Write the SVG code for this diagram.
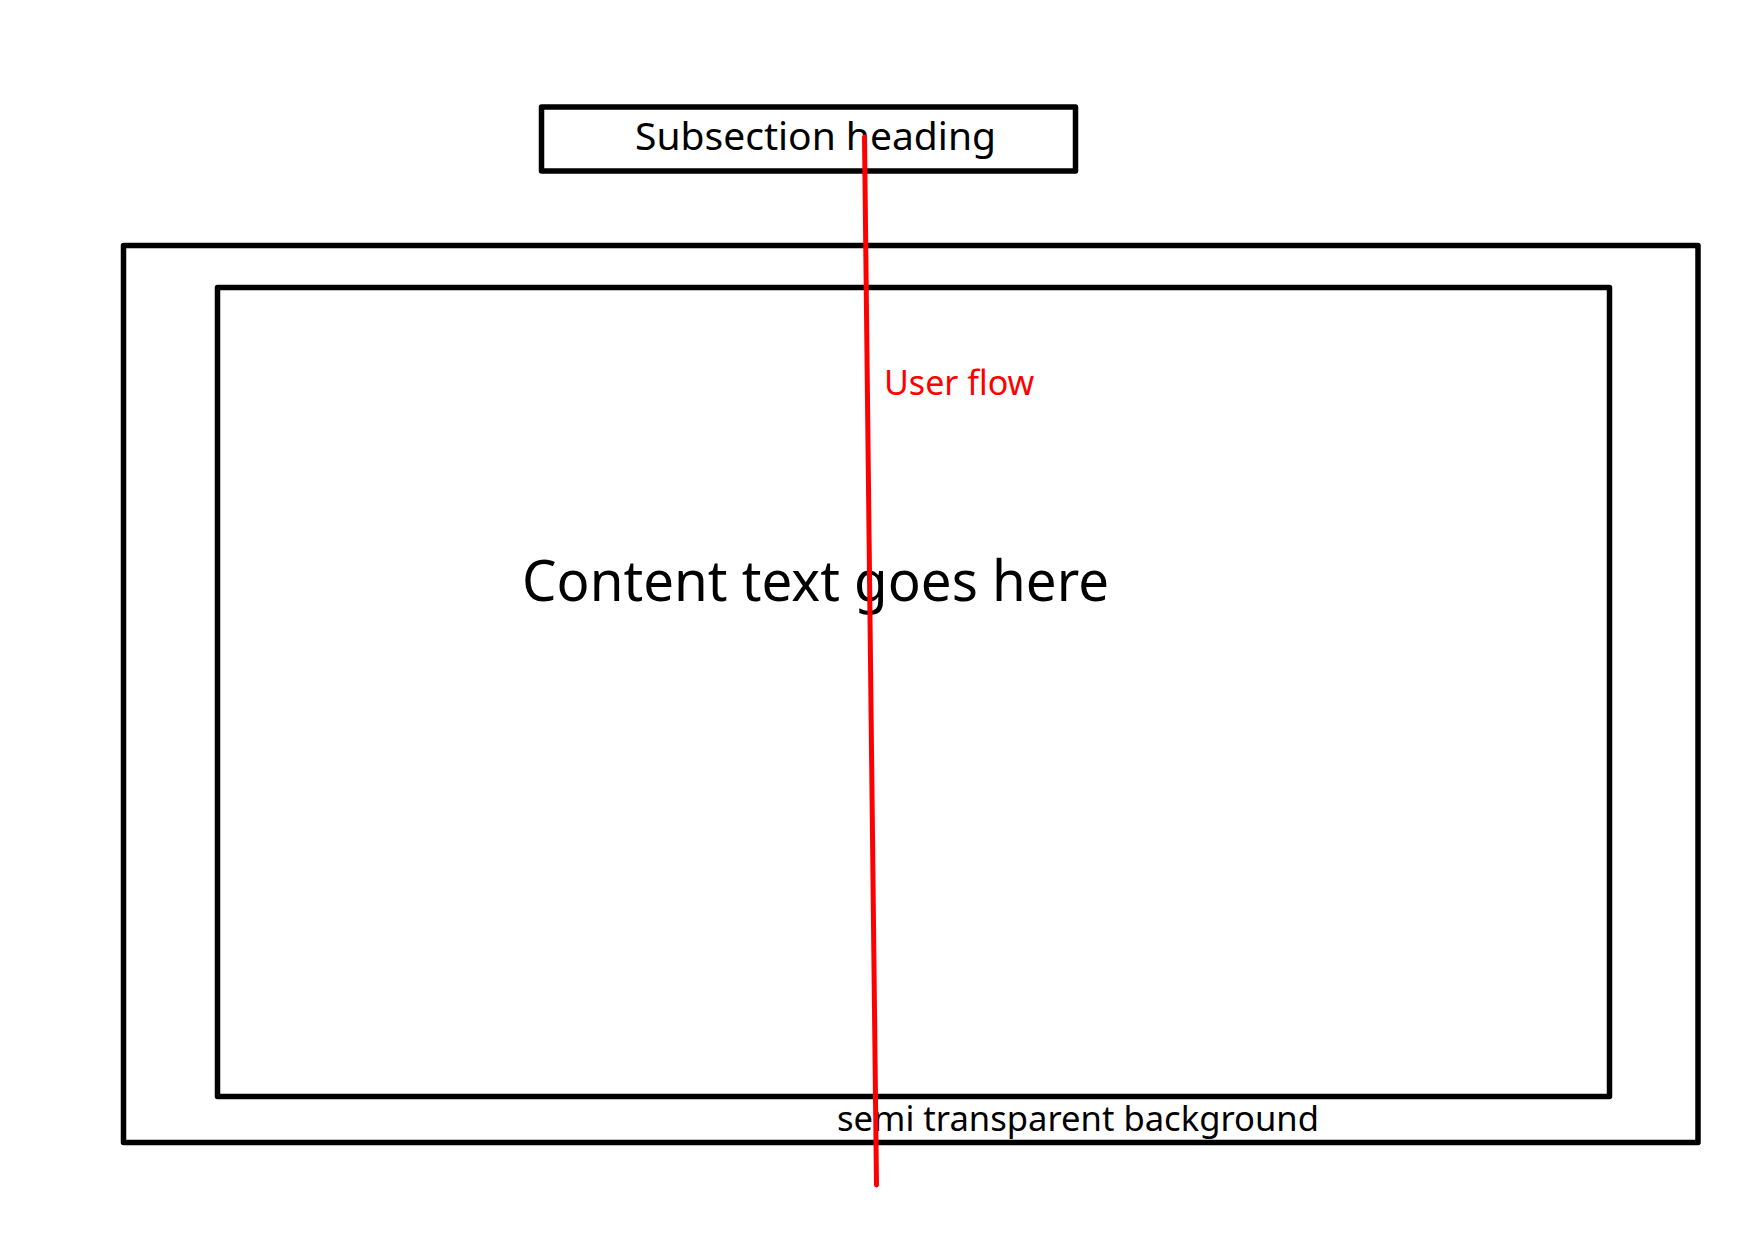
<svg xmlns="http://www.w3.org/2000/svg" width="1754" height="1240" viewBox="0 0 1754 1240">
  <style>
    .box { fill: none; stroke: #000; stroke-width: 5.5; stroke-linejoin: round; }
    .label { font-family: "Noto Sans", "Open Sans", "DejaVu Sans", sans-serif; fill: #000; }
    .flow { stroke: #ff0000; stroke-width: 5; stroke-linecap: round; fill: none; }
    .flow-label { fill: #ff0000; }
  </style>
  <rect width="1754" height="1240" fill="#fff"/>

  <!-- heading box -->
  <g id="heading">
    <rect class="box" x="541.5" y="107" width="534" height="64"/>
    <text class="label" x="635" y="150" font-size="39">Subsection heading</text>
  </g>

  <!-- outer frame: semi transparent background -->
  <g id="background">
    <rect class="box" x="123.5" y="245.5" width="1574.5" height="897"/>
    <text class="label" x="837" y="1131" font-size="35" textLength="482" lengthAdjust="spacingAndGlyphs">semi transparent background</text>
  </g>

  <!-- inner content panel -->
  <g id="content">
    <rect class="box" x="217.5" y="287.5" width="1392" height="809"/>
    <text class="label" x="522" y="601" font-size="57" textLength="587" lengthAdjust="spacingAndGlyphs">Content text goes here</text>
  </g>

  <!-- flow line -->
  <g id="connectors">
    <line class="flow" x1="864.5" y1="137" x2="876.5" y2="1185"/>
    <text class="label flow-label" x="884" y="395" font-size="34">User flow</text>
  </g>
</svg>
